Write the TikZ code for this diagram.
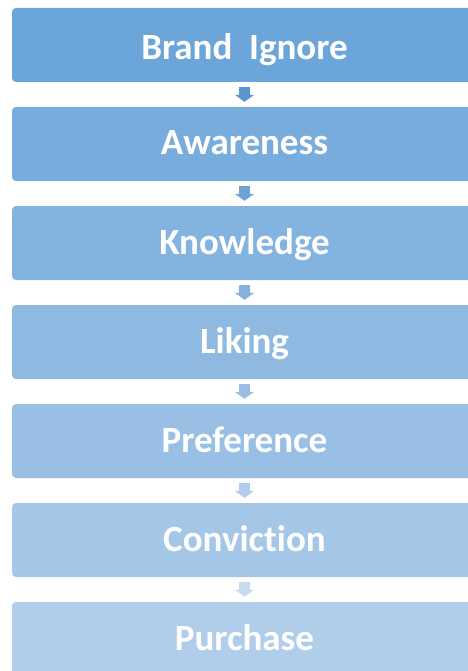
\documentclass[tikz,border=0pt]{standalone}
\usepackage{fontspec}
\setmainfont{Carlito}[Ligatures=NoCommon]
\usetikzlibrary{arrows.meta}
\definecolor{boxa}{RGB}{108,165,217}
\definecolor{boxb}{RGB}{119,172,220}
\definecolor{boxc}{RGB}{131,179,223}
\definecolor{boxd}{RGB}{142,186,225}
\definecolor{boxe}{RGB}{153,192,228}
\definecolor{boxf}{RGB}{165,199,231}
\definecolor{boxg}{RGB}{176,206,234}
\definecolor{arra}{RGB}{89,149,207}
\definecolor{arrb}{RGB}{111,163,214}
\definecolor{arrc}{RGB}{133,177,220}
\definecolor{arrd}{RGB}{156,190,227}
\definecolor{arre}{RGB}{178,204,233}
\definecolor{arrf}{RGB}{200,218,240}

\begin{document}
\begin{tikzpicture}[x=1pt,y=1pt,node distance=99pt,
    stage/.style = {rounded corners=4pt, minimum width=465pt, minimum height=74pt, inner sep=0pt,
                    text=white, text height=30pt, text depth=8pt, font=\fontsize{37}{40}\selectfont\bfseries},
    flow/.style = {line width=11pt, -{Triangle[width=19pt,length=7pt]}, shorten <=5pt, shorten >=5pt}]
                \useasboundingbox (0,0) rectangle (467,-671);
                \node[stage, fill=boxa, text depth=0pt] (brand) at (244.5,-45) {Brand\ \ Ignore};
                \node[stage, fill=boxb] (aware) [below of=brand] {Awareness};
                \node[stage, fill=boxc] (know) [below of=aware] {Knowledge};
                \node[stage, fill=boxd] (like) [below of=know] {Liking};
                \node[stage, fill=boxe] (pref) [below of=like] {Preference};
                \node[stage, fill=boxf] (conv) [below of=pref] {Conviction};
                \node[stage, fill=boxg] (buy) [below of=conv] {Purchase};
                \draw[flow, draw=arra] (brand) -- (aware);
                \draw[flow, draw=arrb] (aware) -- (know);
                \draw[flow, draw=arrc] (know) -- (like);
                \draw[flow, draw=arrd] (like) -- (pref);
                \draw[flow, draw=arre] (pref) -- (conv);
                \draw[flow, draw=arrf] (conv) -- (buy);
            \end{tikzpicture}
\end{document}
